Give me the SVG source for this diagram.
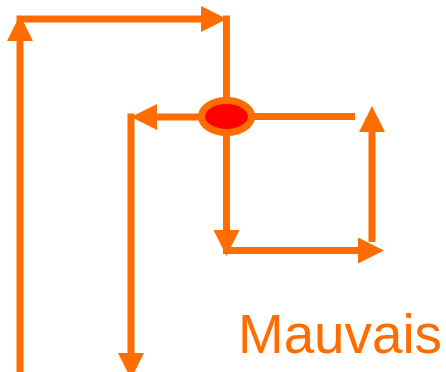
<svg xmlns="http://www.w3.org/2000/svg" width="446" height="372" viewBox="0 0 446 372">
<style>
.c{stroke:#FF6C00;stroke-width:7;fill:none;marker-end:url(#ah)}
.p{stroke:#FF6C00;stroke-width:7;fill:none}
.t{font-family:"Liberation Sans","DejaVu Sans",sans-serif;font-size:56px;fill:#FF6C00}
</style>
<defs>
<marker id="ah" markerUnits="userSpaceOnUse" markerWidth="26" markerHeight="26" viewBox="0 -12 24 24" refX="0" refY="0" orient="auto">
<path d="M0,-12 L24,0 L0,12 z" fill="#FF6C00"/>
</marker>
</defs>
<rect width="446" height="372" fill="#fff"/>
<g id="connectors">
<line class="c" x1="20" y1="372" x2="20" y2="41"/>
<line class="c" x1="16.5" y1="19" x2="201" y2="19"/>
<line class="p" x1="226.5" y1="15.5" x2="226.5" y2="117"/>
<line class="p" x1="226" y1="116.5" x2="355" y2="116.5"/>
<line class="c" x1="226" y1="117" x2="157" y2="117"/>
<line class="c" x1="131" y1="113.5" x2="131" y2="353"/>
<line class="c" x1="226.5" y1="117" x2="226.5" y2="230"/>
<line class="c" x1="223" y1="250.5" x2="358" y2="250.5"/>
<line class="c" x1="372" y1="242" x2="372" y2="132"/>
</g>
<g id="node">
<ellipse cx="226.5" cy="116.5" rx="25" ry="16" fill="#FF0000" stroke="#FF6C00" stroke-width="7"/>
</g>
<g id="label">
<text class="t" x="238" y="353" textLength="204" lengthAdjust="spacingAndGlyphs">Mauvais</text>
</g>
</svg>
